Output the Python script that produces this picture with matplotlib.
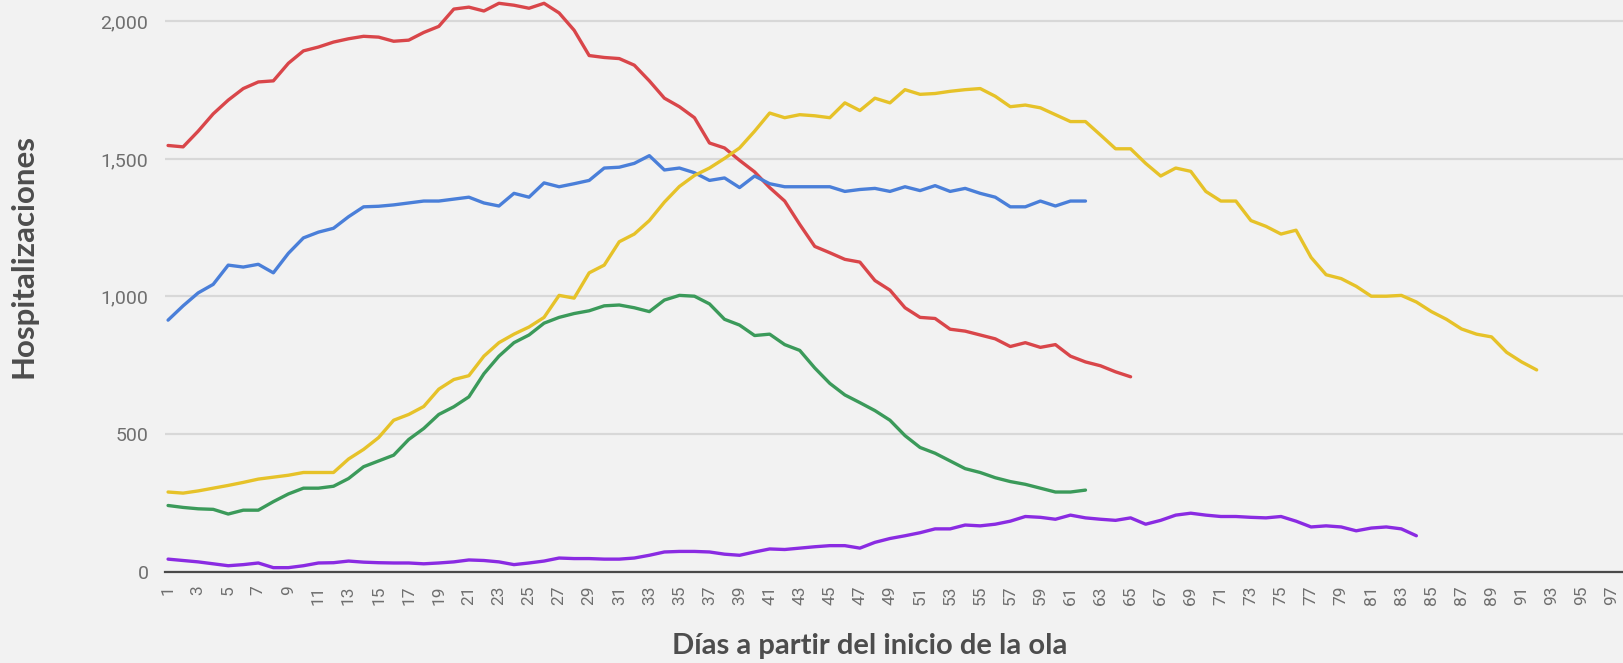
import matplotlib.pyplot as plt

# hospitalizaciones por día desde el inicio de cada ola
red = [1549, 1544, 1601, 1664, 1714, 1756, 1780, 1784, 1848, 1893,
       1907, 1925, 1937, 1946, 1943, 1928, 1932, 1960, 1982, 2045,
       2052, 2038, 2066, 2059, 2048, 2066, 2031, 1968, 1876, 1869,
       1865, 1841, 1784, 1721, 1690, 1650, 1558, 1540, 1495, 1453,
       1396, 1347, 1262, 1182, 1159, 1135, 1125, 1058, 1023, 959,
       924, 920, 881, 874, 860, 846, 818, 832, 815, 825,
       783, 762, 748, 726, 708]
blue = [914, 966, 1013, 1044, 1114, 1107, 1117, 1086, 1157, 1213,
        1234, 1248, 1290, 1326, 1328, 1333, 1340, 1347, 1347, 1354,
        1361, 1340, 1329, 1375, 1361, 1413, 1399, 1410, 1422, 1467,
        1470, 1484, 1512, 1460, 1467, 1450, 1422, 1431, 1396, 1438,
        1410, 1399, 1399, 1399, 1399, 1382, 1389, 1393, 1382, 1399,
        1385, 1403, 1382, 1393, 1375, 1361, 1326, 1326, 1347, 1329,
        1347, 1347]
yellow = [289, 285, 293, 303, 313, 324, 336, 343, 350, 360,
          360, 360, 409, 444, 487, 550, 571, 600, 663, 698,
          712, 783, 832, 863, 889, 924, 1004, 994, 1086, 1114,
          1199, 1227, 1276, 1343, 1400, 1440, 1467, 1502, 1540, 1601,
          1667, 1650, 1661, 1657, 1650, 1704, 1676, 1721, 1704, 1752,
          1735, 1738, 1746, 1752, 1756, 1728, 1690, 1696, 1686, 1661,
          1636, 1636, 1587, 1537, 1537, 1484, 1438, 1467, 1455, 1382,
          1347, 1347, 1276, 1255, 1227, 1241, 1142, 1079, 1065, 1037,
          1001, 1001, 1004, 980, 945, 917, 882, 863, 853, 797,
          762, 733]
green = [240, 233, 228, 226, 209, 223, 223, 254, 282, 303,
         303, 310, 338, 381, 402, 423, 480, 520, 571, 599,
         635, 719, 783, 832, 860, 903, 924, 938, 948, 966,
         969, 959, 945, 987, 1004, 1001, 973, 917, 896, 858,
         863, 825, 804, 740, 684, 642, 614, 585, 550, 494,
         451, 430, 402, 374, 360, 341, 327, 317, 303, 289,
         289, 296]
purple = [45, 40, 35, 28, 21, 25, 31, 14, 14, 21,
          31, 32, 38, 34, 32, 31, 31, 28, 31, 35,
          42, 40, 35, 25, 31, 38, 49, 47, 47, 45,
          45, 49, 59, 71, 73, 73, 71, 63, 59, 71,
          82, 80, 85, 90, 94, 94, 85, 106, 120, 130,
          141, 155, 155, 169, 166, 172, 183, 200, 197, 190,
          205, 195, 190, 186, 195, 172, 186, 205, 212, 205,
          200, 200, 197, 195, 200, 183, 162, 166, 162, 148,
          158, 162, 155, 130]

x_ticks = list(range(1, 98, 2))
y_ticks = [0, 500, 1000, 1500, 2000]
y_labels = ['0', '500', '1,000', '1,500', '2,000']

bg = '#f2f2f2'
fig = plt.figure(figsize=(16.23, 6.63), dpi=100, facecolor=bg)
ax = fig.add_axes([0.1017, 0.138, 0.8983, 0.862], facecolor=bg)

series = [(red, '#d9464a'), (blue, '#4a7fd9'), (yellow, '#e6c229'),
          (green, '#3b9a5a'), (purple, '#8a2be2')]
for vals, col in series:
    ax.plot(range(1, len(vals) + 1), vals, color=col, lw=2.4,
            solid_joinstyle='round', solid_capstyle='round', zorder=3)

ax.set_xlim(0.8, 97.74)
ax.set_ylim(0, 2078)

ax.set_yticks(y_ticks)
ax.set_yticklabels(y_labels, fontsize=14, color='#6f6f6f', family='Roboto')
ax.set_xticks(x_ticks)
ax.set_xticklabels([str(t) for t in x_ticks], rotation=90, va='top',
                   fontsize=12.5, color='#6f6f6f', family='Roboto')
ax.tick_params(axis='y', length=0, pad=12)
ax.tick_params(axis='x', length=0, pad=10)

ax.grid(axis='y', color='#d8d8d8', lw=1.6)
ax.set_axisbelow(True)
for s in ['top', 'right', 'left']:
    ax.spines[s].set_visible(False)
ax.spines['bottom'].set_color('#4a4a4a')
ax.spines['bottom'].set_linewidth(1.6)
ax.spines['bottom'].set_zorder(4)

fig.text(0.0145, 0.614, 'Hospitalizaciones', rotation=90, ha='center',
         va='center', fontsize=22.5, fontweight='bold', color='#4d4d4d',
         family='Lato')
fig.text(0.536, 0.013, 'Días a partir del inicio de la ola', ha='center',
         va='baseline', fontsize=21, fontweight='bold', color='#4d4d4d',
         family='Lato')

fig.savefig('out.png', dpi=100, facecolor=bg)
